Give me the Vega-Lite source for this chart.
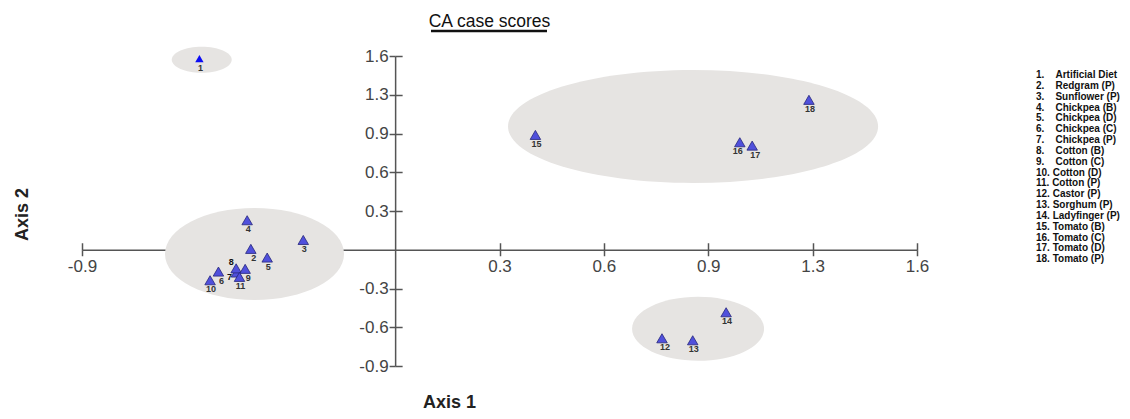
{
  "$schema": "https://vega.github.io/schema/vega-lite/v6.json",
  "width": 835,
  "height": 310,
  "autosize": {"type": "none"},
  "padding": {"left": 82, "top": 56, "right": 213, "bottom": 53},
  "background": "white",
  "title": {"text": "CA case scores", "font": "Liberation Sans", "fontSize": 17.5, "fontWeight": "normal", "color": "#111", "anchor": "middle", "frame": "group", "dx": -10, "dy": 18, "offset": 3, "baseline": "alphabetic"},
  "config": {"view": {"stroke": null}, "axis": {"grid": false}},
  "datasets": {
    "pts": [
      {"id": 1, "entry": "1. Artificial Diet", "x": -0.586, "y": 1.542},
      {"id": 2, "entry": "2. Redgram (P)", "x": -0.432, "y": 0.007},
      {"id": 3, "entry": "3. Sunflower (P)", "x": -0.275, "y": 0.079},
      {"id": 4, "entry": "4. Chickpea (B)", "x": -0.443, "y": 0.238},
      {"id": 5, "entry": "5. Chickpea (D)", "x": -0.383, "y": -0.063},
      {"id": 6, "entry": "6. Chickpea (C)", "x": -0.529, "y": -0.176},
      {"id": 7, "entry": "7. Chickpea (P)", "x": -0.475, "y": -0.184},
      {"id": 8, "entry": "8. Cotton (B)", "x": -0.476, "y": -0.150},
      {"id": 9, "entry": "9. Cotton (C)", "x": -0.449, "y": -0.154},
      {"id": 10, "entry": "10. Cotton (D)", "x": -0.554, "y": -0.246},
      {"id": 11, "entry": "11. Cotton (P)", "x": -0.466, "y": -0.219},
      {"id": 12, "entry": "12. Castor (P)", "x": 0.799, "y": -0.714},
      {"id": 13, "entry": "13. Sorghum (P)", "x": 0.891, "y": -0.730},
      {"id": 14, "entry": "14. Ladyfinger (P)", "x": 0.991, "y": -0.504},
      {"id": 15, "entry": "15. Tomato (B)", "x": 0.420, "y": 0.926},
      {"id": 16, "entry": "16. Tomato (C)", "x": 1.032, "y": 0.867},
      {"id": 17, "entry": "17. Tomato (D)", "x": 1.069, "y": 0.840},
      {"id": 18, "entry": "18. Tomato (P)", "x": 1.239, "y": 1.209}
    ],
    "ell": [
      {"g": "E1", "cx": -0.579, "cy": 1.533, "rx": 0.0898, "ry": 0.1048},
      {"g": "E2", "cx": -0.421, "cy": -0.034, "rx": 0.268, "ry": 0.371},
      {"g": "E3", "cx": 0.892, "cy": 0.994, "rx": 0.554, "ry": 0.456},
      {"g": "E4", "cx": 0.907, "cy": -0.637, "rx": 0.1976, "ry": 0.258}
    ]
  },
  "layer": [
    {
      "data": {"name": "ell"},
      "mark": {"type": "point", "filled": true, "opacity": 1, "color": "#e6e4e2", "strokeWidth": 0},
      "encoding": {
        "x": {"field": "cx", "type": "quantitative", "scale": {"domain": [-0.9375, 1.5625], "nice": false, "zero": false},
          "axis": {"orient": "bottom", "offset": -116.25, "values": [-0.9375, -0.625, -0.3125, 0.3125, 0.625, 0.9375, 1.25, 1.5625],
            "labelExpr": "['-0.9','-0.6','-0.3','0','0.3','0.6','0.9','1.3','1.6'][round(datum.value/0.3125)+3]",
            "labelFlush": false, "labelOverlap": false, "labelBound": false,
            "domainColor": "#555", "domainWidth": 1.5, "tickColor": "#555", "tickWidth": 1.5, "tickSize": 6,
            "labelFont": "Liberation Sans", "labelFontSize": 17, "labelColor": "#444", "labelPadding": 3,
            "title": "Axis 1", "titleFont": "Liberation Sans", "titleFontSize": 18, "titleFontWeight": "bold", "titleColor": "#222",
            "titleX": 367, "titleY": 153, "titleBaseline": "middle", "titleAlign": "center"}},
        "y": {"field": "cy", "type": "quantitative", "scale": {"domain": [-0.9375, 1.5625], "nice": false, "zero": false},
          "axis": {"orient": "left", "offset": -313.125, "values": [-0.9375, -0.625, -0.3125, 0.3125, 0.625, 0.9375, 1.25, 1.5625],
            "labelExpr": "['-0.9','-0.6','-0.3','0','0.3','0.6','0.9','1.3','1.6'][round(datum.value/0.3125)+3]",
            "labelFlush": false, "labelOverlap": false, "labelBound": false,
            "domainColor": "#555", "domainWidth": 1.5, "tickColor": "#555", "tickWidth": 1.5, "tickSize": 6,
            "labelFont": "Liberation Sans", "labelFontSize": 17, "labelColor": "#444", "labelPadding": 1, "labelBaseline": "middle",
            "title": "Axis 2", "titleFont": "Liberation Sans", "titleFontSize": 18, "titleFontWeight": "bold", "titleColor": "#222",
            "titleX": -373, "titleY": 158, "titleBaseline": "middle", "titleAlign": "center", "titleAngle": -90}},
        "size": {"field": "rx", "type": "quantitative", "scale": {"type": "pow", "exponent": 2, "domain": [0, 1], "range": [0, 446224], "zero": true}, "legend": null},
        "shape": {"field": "g", "type": "nominal", "scale": {"domain": ["E1", "E2", "E3", "E4"], "range": [
          "M-1,0A1,0.433,0,1,0,1,0A1,0.433,0,1,0,-1,0Z",
          "M-1,0A1,0.514,0,1,0,1,0A1,0.514,0,1,0,-1,0Z",
          "M-1,0A1,0.305,0,1,0,1,0A1,0.305,0,1,0,-1,0Z",
          "M-1,0A1,0.485,0,1,0,1,0A1,0.485,0,1,0,-1,0Z"]}, "legend": null}
      }
    },
    {
      "data": {"values": [{}]},
      "mark": {"type": "rule", "color": "#111", "strokeWidth": 2.5},
      "encoding": {
        "x": {"datum": 0.1074, "type": "quantitative", "axis": null},
        "x2": {"datum": 0.4547},
        "y": {"datum": 1.764, "type": "quantitative", "axis": null}
      }
    },
    {
      "data": {"name": "pts"},
      "transform": [{"filter": "datum.id != 1"}],
      "mark": {"type": "point", "shape": "triangle-up", "filled": true, "size": 110, "opacity": 1, "stroke": "#26267a", "strokeWidth": 0.8},
      "encoding": {
        "x": {"field": "x", "type": "quantitative", "scale": {"domain": [-0.9375, 1.5625], "nice": false, "zero": false},
          "axis": {"orient": "top", "offset": -193.75, "values": [-0.9375, -0.625, -0.3125, 0.3125, 0.625, 0.9375, 1.25, 1.5625],
            "labels": false, "domain": false, "tickColor": "#555", "tickWidth": 1.5, "tickSize": 7, "title": null}},
        "y": {"field": "y", "type": "quantitative", "scale": {"domain": [-0.9375, 1.5625], "nice": false, "zero": false},
          "axis": {"orient": "right", "offset": -521.875, "values": [-0.9375, -0.625, -0.3125, 0.3125, 0.625, 0.9375, 1.25, 1.5625],
            "labels": false, "domain": false, "tickColor": "#555", "tickWidth": 1.5, "tickSize": 7, "title": null}},
        "color": {"field": "entry", "type": "nominal",
          "scale": {"domain": ["1. Artificial Diet", "2. Redgram (P)", "3. Sunflower (P)", "4. Chickpea (B)", "5. Chickpea (D)", "6. Chickpea (C)", "7. Chickpea (P)", "8. Cotton (B)", "9. Cotton (C)", "10. Cotton (D)", "11. Cotton (P)", "12. Castor (P)", "13. Sorghum (P)", "14. Ladyfinger (P)", "15. Tomato (B)", "16. Tomato (C)", "17. Tomato (D)", "18. Tomato (P)"],
            "range": ["#0c0cf5", "#5050dc", "#5050dc", "#5050dc", "#5050dc", "#5050dc", "#5050dc", "#5050dc", "#5050dc", "#5050dc", "#5050dc", "#5050dc", "#5050dc", "#5050dc", "#5050dc", "#5050dc", "#5050dc", "#5050dc"]},
          "legend": {"orient": "none", "legendX": 942, "legendY": 14, "title": null, "padding": 0,
            "symbolOpacity": 0, "symbolSize": 1, "symbolStrokeWidth": 0, "labelOffset": 2,
            "labelFont": "Liberation Sans", "labelFontSize": 10, "labelFontWeight": "bold", "labelColor": "#111", "labelLimit": 300,
            "rowPadding": 0.84,
            "labelExpr": "indexof(datum.label, '.') == 1 ? replace(datum.label, '. ', '.\u00a0\u00a0\u00a0\u00a0') : datum.label"}}
      }
    },
    {
      "data": {"name": "pts"},
      "transform": [{"filter": "datum.id == 1"}],
      "mark": {"type": "point", "shape": "triangle-up", "filled": true, "size": 70, "opacity": 1, "strokeWidth": 0},
      "encoding": {
        "x": {"field": "x", "type": "quantitative", "axis": null},
        "y": {"field": "y", "type": "quantitative", "axis": null},
        "color": {"field": "entry", "type": "nominal"}
      }
    },
    {
      "data": {"name": "pts"},
      "transform": [{"filter": "indexof([1,3,4,5,10,11,13,14,15,18], datum.id) >= 0"}],
      "mark": {"type": "text", "font": "Liberation Sans", "fontSize": 9, "fontWeight": "bold", "color": "#333", "dx": 1, "dy": 9, "baseline": "middle", "align": "center"},
      "encoding": {"x": {"field": "x", "type": "quantitative", "axis": null}, "y": {"field": "y", "type": "quantitative", "axis": null}, "text": {"field": "id", "type": "nominal"}}
    },
    {
      "data": {"name": "pts"},
      "transform": [{"filter": "indexof([2,6,9,12,17], datum.id) >= 0"}],
      "mark": {"type": "text", "font": "Liberation Sans", "fontSize": 9, "fontWeight": "bold", "color": "#333", "dx": 3, "dy": 9, "baseline": "middle", "align": "center"},
      "encoding": {"x": {"field": "x", "type": "quantitative", "axis": null}, "y": {"field": "y", "type": "quantitative", "axis": null}, "text": {"field": "id", "type": "nominal"}}
    },
    {
      "data": {"name": "pts"},
      "transform": [{"filter": "datum.id == 16"}],
      "mark": {"type": "text", "font": "Liberation Sans", "fontSize": 9, "fontWeight": "bold", "color": "#333", "dx": -2, "dy": 9, "baseline": "middle", "align": "center"},
      "encoding": {"x": {"field": "x", "type": "quantitative", "axis": null}, "y": {"field": "y", "type": "quantitative", "axis": null}, "text": {"field": "id", "type": "nominal"}}
    },
    {
      "data": {"name": "pts"},
      "transform": [{"filter": "datum.id == 7"}],
      "mark": {"type": "text", "font": "Liberation Sans", "fontSize": 9, "fontWeight": "bold", "color": "#111", "dx": -7, "dy": 4, "baseline": "middle", "align": "center"},
      "encoding": {"x": {"field": "x", "type": "quantitative", "axis": null}, "y": {"field": "y", "type": "quantitative", "axis": null}, "text": {"field": "id", "type": "nominal"}}
    },
    {
      "data": {"name": "pts"},
      "transform": [{"filter": "datum.id == 8"}],
      "mark": {"type": "text", "font": "Liberation Sans", "fontSize": 9, "fontWeight": "bold", "color": "#111", "dx": -5, "dy": -6, "baseline": "middle", "align": "center"},
      "encoding": {"x": {"field": "x", "type": "quantitative", "axis": null}, "y": {"field": "y", "type": "quantitative", "axis": null}, "text": {"field": "id", "type": "nominal"}}
    }
  ],
  "resolve": {"axis": {"x": "independent", "y": "independent"}}
}
